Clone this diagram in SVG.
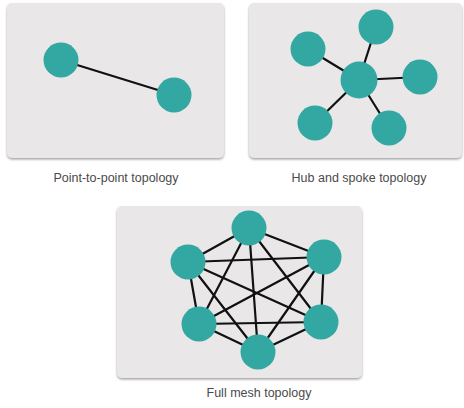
<svg xmlns="http://www.w3.org/2000/svg" width="464" height="408" viewBox="0 0 464 408">
  <defs>
    <filter id="drop" x="-5%" y="-5%" width="110%" height="115%">
      <feDropShadow dx="0" dy="1.5" stdDeviation="0.8" flood-color="#555" flood-opacity="0.55"/>
    </filter>
  </defs>
  <style>
    .panel { fill: #e9e7e8; filter: url(#drop); }
    .node { fill: #33a7a1; }
    .link { stroke: #111; stroke-width: 2.2; stroke-linecap: round; }
    .label { font-family: "Liberation Sans", Arial, sans-serif; font-size: 12.5px; fill: #4a4a4a; text-anchor: middle; }
  </style>

  <rect width="464" height="408" fill="#ffffff"/>

  <!-- panels -->
  <rect class="panel" x="7" y="3" width="217" height="155" rx="5"/>
  <rect class="panel" x="249" y="3" width="213" height="155" rx="5"/>
  <rect class="panel" x="117" y="206" width="245" height="172" rx="5"/>

  <!-- connectors -->
  <g id="connectors">
    <!-- point-to-point -->
    <line class="link" x1="61" y1="60" x2="174" y2="95"/>
    <!-- hub and spoke -->
    <line class="link" x1="359" y1="80" x2="376" y2="27"/>
    <line class="link" x1="359" y1="80" x2="308" y2="49"/>
    <line class="link" x1="359" y1="80" x2="420" y2="77"/>
    <line class="link" x1="359" y1="80" x2="315" y2="123"/>
    <line class="link" x1="359" y1="80" x2="389" y2="128"/>
    <!-- full mesh -->
    <line class="link" x1="249" y1="228" x2="188" y2="262"/>
    <line class="link" x1="249" y1="228" x2="324" y2="257"/>
    <line class="link" x1="249" y1="228" x2="199" y2="324"/>
    <line class="link" x1="249" y1="228" x2="321" y2="322"/>
    <line class="link" x1="249" y1="228" x2="258" y2="352"/>
    <line class="link" x1="188" y1="262" x2="324" y2="257"/>
    <line class="link" x1="188" y1="262" x2="199" y2="324"/>
    <line class="link" x1="188" y1="262" x2="321" y2="322"/>
    <line class="link" x1="188" y1="262" x2="258" y2="352"/>
    <line class="link" x1="324" y1="257" x2="199" y2="324"/>
    <line class="link" x1="324" y1="257" x2="321" y2="322"/>
    <line class="link" x1="324" y1="257" x2="258" y2="352"/>
    <line class="link" x1="199" y1="324" x2="321" y2="322"/>
    <line class="link" x1="199" y1="324" x2="258" y2="352"/>
    <line class="link" x1="321" y1="322" x2="258" y2="352"/>
  </g>

  <!-- point-to-point nodes -->
  <g id="p2p-a"><circle class="node" cx="61" cy="60" r="17.5"/></g>
  <g id="p2p-b"><circle class="node" cx="174" cy="95" r="17.5"/></g>

  <!-- hub and spoke nodes -->
  <g id="hub"><circle class="node" cx="359" cy="80" r="18.5"/></g>
  <g id="spoke-top"><circle class="node" cx="376" cy="27" r="17.5"/></g>
  <g id="spoke-left"><circle class="node" cx="308" cy="49" r="17.5"/></g>
  <g id="spoke-right"><circle class="node" cx="420" cy="77" r="17.5"/></g>
  <g id="spoke-bottom-left"><circle class="node" cx="315" cy="123" r="17.5"/></g>
  <g id="spoke-bottom-right"><circle class="node" cx="389" cy="128" r="17.5"/></g>

  <!-- full mesh nodes -->
  <g id="mesh-top"><circle class="node" cx="249" cy="228" r="17.5"/></g>
  <g id="mesh-upper-left"><circle class="node" cx="188" cy="262" r="17.5"/></g>
  <g id="mesh-upper-right"><circle class="node" cx="324" cy="257" r="17.5"/></g>
  <g id="mesh-lower-left"><circle class="node" cx="199" cy="324" r="17.5"/></g>
  <g id="mesh-lower-right"><circle class="node" cx="321" cy="322" r="17.5"/></g>
  <g id="mesh-bottom"><circle class="node" cx="258" cy="352" r="17.5"/></g>

  <!-- captions -->
  <text class="label" x="116" y="182">Point-to-point topology</text>
  <text class="label" x="359" y="182">Hub and spoke topology</text>
  <text class="label" x="259" y="397">Full mesh topology</text>
</svg>
